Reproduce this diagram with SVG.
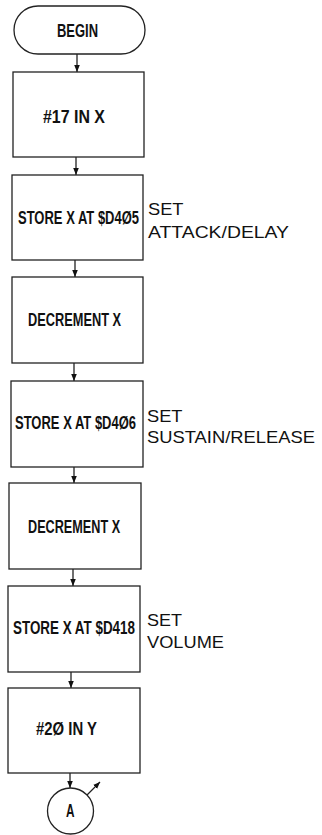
<svg xmlns="http://www.w3.org/2000/svg" width="322" height="835" viewBox="0 0 322 835">
<style>
.box{fill:#fff;stroke:#222;stroke-width:1.3}
.bt{font-family:"Liberation Sans",Arial,sans-serif;font-weight:bold;font-size:18px;fill:#111}
.side{font-family:"Liberation Sans",Arial,sans-serif;font-size:16.5px;fill:#111}
.con{stroke:#222;stroke-width:1.3;fill:none}
</style>
<defs>
<marker id="ah" viewBox="0 0 10 8" markerWidth="7" markerHeight="10" refX="10" refY="4" orient="auto" markerUnits="userSpaceOnUse">
<path d="M0,0 L10,4 L0,8 z" fill="#111"/>
</marker>
</defs>
<rect width="322" height="835" fill="#fff"/>
<g id="connectors">
<line class="con" x1="77" y1="54" x2="77" y2="72" marker-end="url(#ah)"/>
<line class="con" x1="76" y1="157" x2="76" y2="175" marker-end="url(#ah)"/>
<line class="con" x1="75" y1="260" x2="75" y2="277" marker-end="url(#ah)"/>
<line class="con" x1="74" y1="363" x2="74" y2="381" marker-end="url(#ah)"/>
<line class="con" x1="74" y1="467" x2="74" y2="483" marker-end="url(#ah)"/>
<line class="con" x1="73" y1="569" x2="73" y2="586" marker-end="url(#ah)"/>
<line class="con" x1="71" y1="672" x2="71" y2="688" marker-end="url(#ah)"/>
<line class="con" x1="70" y1="773" x2="70" y2="788" marker-end="url(#ah)"/>
<line class="con" x1="87" y1="795" x2="100" y2="782" marker-end="url(#ah)"/>
</g>
<g id="begin">
<rect class="box" x="14" y="6" width="131" height="48" rx="24" ry="24"/>
<text class="bt" transform="translate(57,36.7) scale(0.72,1)" textLength="57" lengthAdjust="spacingAndGlyphs">BEGIN</text>
</g>
<g id="n1">
<rect class="box" x="13" y="72" width="131" height="85"/>
<text class="bt" transform="translate(43,122.7) scale(0.885,1)" textLength="70" lengthAdjust="spacingAndGlyphs">#17 IN X</text>
</g>
<g id="n2">
<rect class="box" x="12" y="175" width="131" height="85"/>
<text class="bt" transform="translate(18,224) scale(0.712,1)" textLength="170" lengthAdjust="spacingAndGlyphs">STORE X AT $D4Ø5</text>
<text class="side" x="148" y="215" textLength="35.5" lengthAdjust="spacingAndGlyphs">SET</text>
<text class="side" x="148" y="237.7" textLength="141" lengthAdjust="spacingAndGlyphs">ATTACK/DELAY</text>
</g>
<g id="n3">
<rect class="box" x="12" y="277" width="131" height="86"/>
<text class="bt" transform="translate(28,325.7) scale(0.71,1)" textLength="131" lengthAdjust="spacingAndGlyphs">DECREMENT X</text>
</g>
<g id="n4">
<rect class="box" x="11" y="381" width="132" height="86"/>
<text class="bt" transform="translate(15,429.3) scale(0.712,1)" textLength="170" lengthAdjust="spacingAndGlyphs">STORE X AT $D4Ø6</text>
<text class="side" x="147" y="421.7" textLength="35.5" lengthAdjust="spacingAndGlyphs">SET</text>
<text class="side" x="147" y="443.3" textLength="168" lengthAdjust="spacingAndGlyphs">SUSTAIN/RELEASE</text>
</g>
<g id="n5">
<rect class="box" x="9" y="483" width="132" height="86"/>
<text class="bt" transform="translate(28,533.3) scale(0.703,1)" textLength="131" lengthAdjust="spacingAndGlyphs">DECREMENT X</text>
</g>
<g id="n6">
<rect class="box" x="8" y="586" width="132" height="86"/>
<text class="bt" transform="translate(13,634.3) scale(0.735,1)" textLength="166" lengthAdjust="spacingAndGlyphs">STORE X AT $D418</text>
<text class="side" x="147" y="626" textLength="35" lengthAdjust="spacingAndGlyphs">SET</text>
<text class="side" x="147" y="647.7" textLength="77" lengthAdjust="spacingAndGlyphs">VOLUME</text>
</g>
<g id="n7">
<rect class="box" x="8" y="688" width="132" height="85"/>
<text class="bt" transform="translate(36,735) scale(0.824,1)" textLength="74" lengthAdjust="spacingAndGlyphs">#2Ø IN Y</text>
</g>
<g id="connA">
<circle class="box" cx="70.5" cy="811" r="23"/>
<text class="bt" transform="translate(66,816.7) scale(0.654,1)" textLength="13" lengthAdjust="spacingAndGlyphs">A</text>
</g>
</svg>
